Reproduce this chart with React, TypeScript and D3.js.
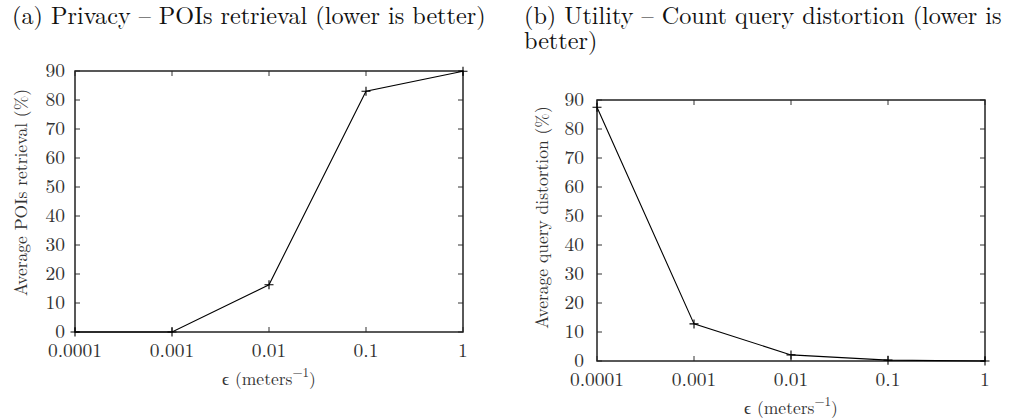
import React, { useEffect, useRef } from 'react';
import * as d3 from 'd3';

// epsilon values (log x axis)
const epsilons = [0.0001, 0.001, 0.01, 0.1, 1];
const xTickLabels = ['0.0001', '0.001', '0.01', '0.1', '1'];
const yTicks = [0, 10, 20, 30, 40, 50, 60, 70, 80, 90];

// (a) privacy: average POIs retrieval (%)
const poisRetrieval = [0, 0, 16.3, 83, 89.9];
// (b) utility: average query distortion (%)
const queryDistortion = [87.5, 12.8, 2.1, 0.3, 0];

const FONT = '"Latin Modern Roman"';

interface PanelSpec {
  titleLines: string[];
  titleX: number;
  yLabel: string;
  values: number[];
  left: number;
  right: number;
  top: number;
  bottom: number;
  yLabelX: number;
  yLabelShift: number;
  yTickGap: number;
}

const panels: PanelSpec[] = [
  {
    titleLines: ['(a) Privacy – POIs retrieval (lower is better)'],
    titleX: 12,
    yLabel: 'Average POIs retrieval (%)',
    values: poisRetrieval,
    left: 75, right: 463, top: 71, bottom: 332,
    yLabelX: 27, yLabelShift: -9, yTickGap: 10,
  },
  {
    titleLines: ['(b) Utility – Count query distortion (lower is', 'better)'],
    titleX: 524,
    yLabel: 'Average query distortion (%)',
    values: queryDistortion,
    left: 597, right: 985, top: 100, bottom: 361,
    yLabelX: 548, yLabelShift: -13, yTickGap: 13,
  },
];

const App: React.FC = () => {
  const svgRef = useRef<SVGSVGElement>(null);

  useEffect(() => {
    if (!svgRef.current) return;
    const svg = d3.select(svgRef.current);
    svg.selectAll('*').remove();

    panels.forEach((p) => {
      const g = svg.append('g');
      const x = d3.scaleLog().domain([0.0001, 1]).range([p.left, p.right]);
      const y = d3.scaleLinear().domain([0, 90]).range([p.bottom, p.top]);

      // title
      p.titleLines.forEach((line, i) => {
        g.append('text')
          .attr('x', p.titleX)
          .attr('y', 24 + i * 25)
          .style('font-family', FONT)
          .style('font-size', '24.2px')
          .attr('fill', '#111')
          .text(line);
      });

      const tickLen = 5;
      const axisColor = '#333';

      // y ticks (left + mirrored right)
      yTicks.forEach((v) => {
        const yy = y(v);
        g.append('line')
          .attr('x1', p.left).attr('x2', p.left + tickLen)
          .attr('y1', yy).attr('y2', yy)
          .attr('stroke', axisColor).attr('stroke-width', 1);
        g.append('line')
          .attr('x1', p.right).attr('x2', p.right - tickLen)
          .attr('y1', yy).attr('y2', yy)
          .attr('stroke', axisColor).attr('stroke-width', 1);
        g.append('text')
          .attr('x', p.left - p.yTickGap)
          .attr('y', yy)
          .attr('dy', '0.32em')
          .attr('text-anchor', 'end')
          .style('font-family', FONT)
          .style('font-size', '19.5px')
          .attr('fill', '#333')
          .text(v);
      });

      // x ticks (bottom + mirrored top)
      epsilons.forEach((e, i) => {
        const xx = x(e);
        g.append('line')
          .attr('x1', xx).attr('x2', xx)
          .attr('y1', p.bottom).attr('y2', p.bottom - tickLen)
          .attr('stroke', axisColor).attr('stroke-width', 1);
        g.append('line')
          .attr('x1', xx).attr('x2', xx)
          .attr('y1', p.top).attr('y2', p.top + tickLen)
          .attr('stroke', axisColor).attr('stroke-width', 1);
        g.append('text')
          .attr('x', xx)
          .attr('y', p.bottom + 25)
          .attr('text-anchor', 'middle')
          .style('font-family', FONT)
          .style('font-size', '19.5px')
          .attr('fill', '#333')
          .text(xTickLabels[i]);
      });

      // frame
      g.append('rect')
        .attr('x', p.left).attr('y', p.top)
        .attr('width', p.right - p.left).attr('height', p.bottom - p.top)
        .attr('fill', 'none')
        .attr('stroke', '#222')
        .attr('stroke-width', 1.5);

      // axis labels
      const xl = g.append('text')
        .attr('x', (p.left + p.right) / 2)
        .attr('y', p.bottom + 53)
        .attr('text-anchor', 'middle')
        .style('font-family', FONT)
        .style('font-size', '17.5px')
        .attr('fill', '#333');
      xl.append('tspan').text('ϵ (meters');
      xl.append('tspan').attr('dy', -8).style('font-size', '13px').text('−1');
      xl.append('tspan').attr('dy', 8).text(')');

      const cy = (p.top + p.bottom) / 2 + p.yLabelShift;
      g.append('text')
        .attr('transform', `translate(${p.yLabelX},${cy}) rotate(-90)`)
        .attr('text-anchor', 'middle')
        .style('font-family', FONT)
        .style('font-size', '17.5px')
        .attr('fill', '#333')
        .text(p.yLabel);

      // data line
      const pts = epsilons.map((e, i) => [x(e), y(p.values[i])] as [number, number]);
      g.append('path')
        .attr('d', d3.line()(pts))
        .attr('fill', 'none')
        .attr('stroke', '#000')
        .attr('stroke-width', 1.1);

      // "+" markers
      const m = 4.5;
      pts.forEach(([px, py]) => {
        g.append('path')
          .attr('d', `M${px - m},${py}H${px + m}M${px},${py - m}V${py + m}`)
          .attr('stroke', '#000')
          .attr('stroke-width', 1.1);
      });
    });
  }, []);

  return (
    <div style={{ position: 'absolute', left: 0, top: 0, background: '#fff' }}>
      <svg ref={svgRef} width={1024} height={420}></svg>
    </div>
  );
};

export default App;
